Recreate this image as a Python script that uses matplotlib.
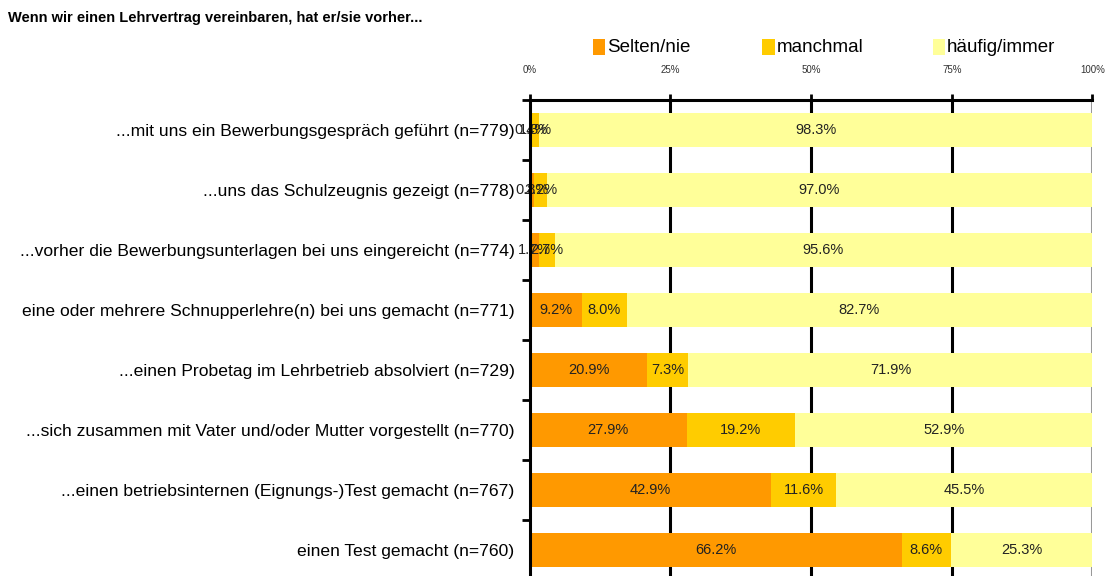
import matplotlib.pyplot as plt
from matplotlib.patches import Rectangle

# categories (top to bottom)
categories = [
    '...mit uns ein Bewerbungsgespräch geführt (n=779)',
    '...uns das Schulzeugnis gezeigt (n=778)',
    '...vorher die Bewerbungsunterlagen bei uns eingereicht (n=774)',
    'eine oder mehrere Schnupperlehre(n) bei uns gemacht (n=771)',
    '...einen Probetag im Lehrbetrieb absolviert (n=729)',
    '...sich zusammen mit Vater und/oder Mutter vorgestellt (n=770)',
    '...einen betriebsinternen (Eignungs-)Test gemacht (n=767)',
    'einen Test gemacht (n=760)',
]
selten = [0.4, 0.8, 1.7, 9.2, 20.9, 27.9, 42.9, 66.2]
manchmal = [1.3, 2.2, 2.7, 8.0, 7.3, 19.2, 11.6, 8.6]
haeufig = [98.3, 97.0, 95.6, 82.7, 71.9, 52.9, 45.5, 25.3]

series_names = ['Selten/nie', 'manchmal', 'häufig/immer']
colors = ['#FF9900', '#FFCC00', '#FFFF99']
x_ticks = [0, 25, 50, 75, 100]
x_ticklabels = ['0%', '25%', '50%', '75%', '100%']

plt.rcParams['font.family'] = ['Liberation Sans', 'DejaVu Sans']

fig = plt.figure(figsize=(11.13, 5.76), dpi=100)
ax = fig.add_axes([0.476, -0.0069, 0.5055, 0.8333])

n = len(categories)
ypos = list(range(n))
left = [0] * n
for vals, col in zip([selten, manchmal, haeufig], colors):
    bars = ax.barh(ypos, vals, left=left, height=0.57, color=col, zorder=2)
    for b, v in zip(bars, vals):
        ax.text(b.get_x() + b.get_width() / 2, b.get_y() + b.get_height() / 2,
                f'{v:.1f}%', ha='center', va='center', fontsize=10.5,
                color='#222222', zorder=3)
    left = [l + v for l, v in zip(left, vals)]

ax.set_xlim(0, 100)
ax.set_ylim(n - 0.5, -0.5)

# gridlines
for x in [25, 50, 75]:
    ax.axvline(x, color='black', lw=2.2, zorder=1)
ax.axvline(100, color='#999999', lw=2.2, zorder=1)

# x axis on top
ax.xaxis.tick_top()
ax.set_xticks(x_ticks)
ax.set_xticklabels(x_ticklabels, fontsize=7, color='#333333')
ax.tick_params(axis='x', direction='out', length=4, width=2, pad=14)

# y ticks at boundaries, labels at centers
ax.set_yticks([i - 0.5 for i in range(n + 1)])
ax.set_yticklabels([])
ax.set_yticks(ypos, minor=True)
ax.set_yticklabels(categories, minor=True, fontsize=12.6)
ax.tick_params(axis='y', which='major', direction='out', length=6, width=2)
ax.tick_params(axis='y', which='minor', length=0, pad=11)

for s in ['right', 'bottom']:
    ax.spines[s].set_visible(False)
ax.spines['top'].set_linewidth(2.2)
ax.spines['left'].set_linewidth(2.2)
ax.spines['left'].set_zorder(4)

fig.text(0.007, 0.968, 'Wenn wir einen Lehrvertrag vereinbaren, hat er/sie vorher...',
         fontsize=10.5, fontweight='bold', va='center', ha='left')

# legend
leg_x = [0.533, 0.685, 0.838]
for name, col, lx in zip(series_names, colors, leg_x):
    fig.patches.append(Rectangle((lx, 0.905), 0.011, 0.027, transform=fig.transFigure,
                                 facecolor=col, edgecolor='none'))
    fig.text(lx + 0.0125, 0.918, name, fontsize=13.5, va='center', ha='left')

fig.savefig('out.png', dpi=100)
